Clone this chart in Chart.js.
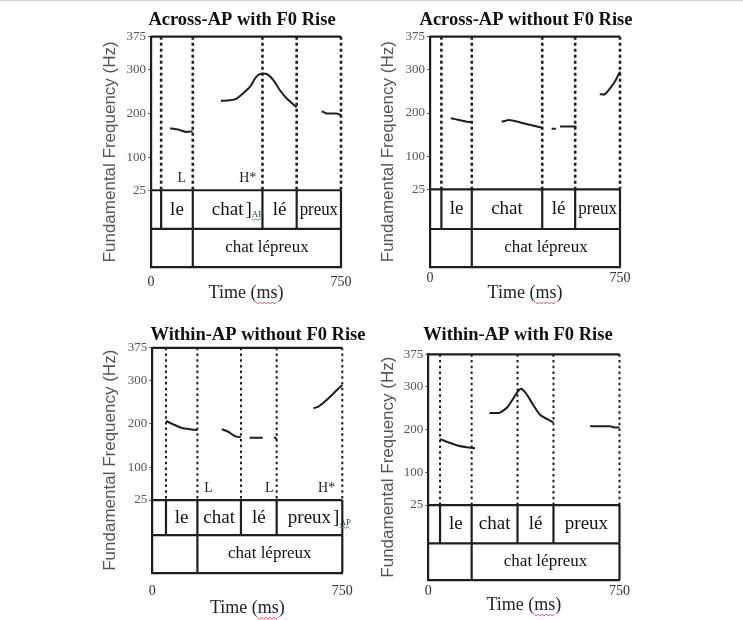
<!DOCTYPE html>
<html>
<head>
<meta charset="utf-8">
<title>F0 contours - le chat lépreux</title>
<script src="https://cdn.jsdelivr.net/npm/chart.js@4.4.1/dist/chart.umd.min.js"></script>
<style>
  body { margin: 0; background: #fff; width: 743px; height: 620px; position: relative; overflow: hidden; }
  .edge { position: absolute; left: 0; top: 0; width: 743px; height: 1px; background: #d0d0d0; }
  .panel { position: absolute; }
</style>
</head>
<body>
<div class="edge"></div>
<div class="panel" style="left:95px;top:0px"><canvas id="c1" width="275" height="310"></canvas></div>
<div class="panel" style="left:372px;top:0px"><canvas id="c2" width="290" height="310"></canvas></div>
<div class="panel" style="left:95px;top:315px"><canvas id="c3" width="285" height="305"></canvas></div>
<div class="panel" style="left:375px;top:315px"><canvas id="c4" width="290" height="305"></canvas></div>
<script>
// axis ticks
const yTicks = [25, 100, 200, 300, 375];
const xTicks = [0, 750];
const words = ['le', 'chat', 'lé', 'preux'];
const phrase = 'chat lépreux';

// Across-AP with F0 Rise (null = voiceless gap)
const acrossRiseTime = [75, 100, 115, 140, 165, null, 276, 312, 338, 364, 391, 411, 430, 457, 483, 509, 536, 575, null, 674, 694, 733, 750];
const acrossRiseF0 = [166, 164, 162, 158, 159, null, 229, 230, 234, 246, 261, 280, 290, 290, 276, 253, 234, 214, null, 205, 200, 200, 196];
const acrossRiseBounds = [40, 165, 440, 575, 750];
const acrossRiseTones = ['L', 'H*'];
const acrossRiseToneTime = [121, 382];

// Across-AP without F0 Rise
const acrossFlatTime = [82, 115, 148, 165, null, 283, 313, 353, 393, 443, null, 480, 497, null, 513, 578, null, 670, 690, 710, 730, 750];
const acrossFlatF0 = [188, 184, 180, 179, null, 180, 184, 179, 173, 166, null, 164, 164, null, 169, 169, null, 243, 243, 256, 272, 295];
const acrossFlatBounds = [45, 165, 443, 573, 750];

// Within-AP without F0 Rise
const withinFlatTime = [54, 83, 122, 178, null, 274, 300, 326, 350, null, 384, 436, null, 481, 491, null, 636, 656, 682, 708, 734, 750];
const withinFlatF0 = [207, 199, 190, 186, null, 188, 182, 172, 169, null, 168, 168, null, 170, 165, null, 236, 240, 252, 266, 281, 289];
const withinFlatBounds = [54, 178, 350, 491, 750];
const withinFlatTones = ['L', 'L', 'H*'];
const withinFlatToneTime = [222, 462, 688];

// Within-AP with F0 Rise
const withinRiseTime = [46, 72, 111, 151, 183, null, 240, 279, 310, 334, 350, 364, 386, 412, 439, 465, 491, null, 635, 713, 733, 750];
const withinRiseF0 = [178, 172, 164, 159, 157, null, 239, 239, 252, 273, 288, 295, 282, 257, 234, 225, 217, null, 208, 208, 205, 205];
const withinRiseBounds = [46, 170, 350, 491, 750];

const SERIF = "'Liberation Serif', 'Times New Roman', serif";
const SANS = "'Liberation Sans', Arial, sans-serif";
const INK = '#1e1e1e';

Chart.defaults.font.family = SERIF;

const panels = [
    { id: 'c1', title: 'Across-AP with F0 Rise', time: acrossRiseTime, f0: acrossRiseF0, bounds: acrossRiseBounds,
      tones: acrossRiseTones, toneTime: acrossRiseToneTime, apWord: 1,
      yMin: -150, tier1: -63, padTop: 36.7, padRight: 29, yAxisW: 56, xAxisH: 43,
      tx: 147, ty: 20, yTitlePad: 4.8, xTickPad: 6.6, xTitlePad: 6.2, dotW: 2.6, dash: [3, 3] },
    { id: 'c2', title: 'Across-AP without F0 Rise', time: acrossFlatTime, f0: acrossFlatF0, bounds: acrossFlatBounds,
      tones: [], toneTime: [], apWord: -1,
      yMin: -152.5, tier1: -66, padTop: 36.7, padRight: 42, yAxisW: 58, xAxisH: 43.3,
      tx: 154, ty: 20.7, yTitlePad: 5.8, xTickPad: 3.5, xTitlePad: 6.2, dotW: 2.6, dash: [3, 3] },
    { id: 'c3', title: 'Within-AP without F0 Rise', time: withinFlatTime, f0: withinFlatF0, bounds: withinFlatBounds,
      tones: withinFlatTones, toneTime: withinFlatToneTime, apWord: 3,
      yMin: -142, tier1: -55.5, padTop: 32.8, padRight: 37.7, yAxisW: 57.3, xAxisH: 47.3,
      tx: 163, ty: 20.7, yTitlePad: 4.8, xTickPad: 10.6, xTitlePad: 0.9, dotW: 2, dash: [2.5, 3.2] },
    { id: 'c4', title: 'Within-AP with F0 Rise', time: withinRiseTime, f0: withinRiseF0, bounds: withinRiseBounds,
      tones: [], toneTime: [], apWord: -1,
      yMin: -149, tier1: -64, padTop: 39.3, padRight: 45.5, yAxisW: 53.3, xAxisH: 40,
      tx: 143, ty: 20.7, yTitlePad: 3.1, xTickPad: 3.3, xTitlePad: 4.2, dotW: 2, dash: [2.5, 3.2] }
];

function seg(x0, y0, x1, y1, width, dash) {
    return {
        data: [{ x: x0, y: y0 }, { x: x1, y: y1 }],
        borderColor: INK, borderWidth: width, borderDash: dash || [],
        pointRadius: 0, clip: false
    };
}

function squiggle(ctx, x0, x1, y, color) {
    ctx.save();
    ctx.strokeStyle = color;
    ctx.lineWidth = 1;
    ctx.beginPath();
    for (let x = x0, k = 0; x <= x1; x += 2, k++) {
        const yy = y + (k % 2 ? 1 : -1);
        if (k === 0) ctx.moveTo(x, yy); else ctx.lineTo(x, yy);
    }
    ctx.stroke();
    ctx.restore();
}

// text squeezed sideways if it does not fit its interval
function fitText(ctx, txt, cx, cy, room) {
    const w = ctx.measureText(txt).width;
    if (w <= room) { ctx.fillText(txt, cx, cy); return w; }
    ctx.save();
    ctx.translate(cx, cy);
    ctx.scale(room / w, 1);
    ctx.fillText(txt, 0, 0);
    ctx.restore();
    return room;
}

// titles, tier labels, tone labels
const textPlugin = {
    id: 'tiers',
    afterDraw(chart, args, o) {
        const ctx = chart.ctx, xs = chart.scales.x, ys = chart.scales.y;
        const b = o.bounds;
        const y25 = ys.getPixelForValue(25);
        const yT1 = ys.getPixelForValue(o.tier1);
        const yT2 = ys.getPixelForValue(ys.min);
        ctx.save();
        ctx.textBaseline = 'middle';

        ctx.textAlign = 'center';
        ctx.fillStyle = '#111';
        ctx.font = 'bold 18.5px ' + SERIF;
        ctx.fillText(o.title, o.tx, o.ty);

        ctx.font = '19px ' + SERIF;
        for (let i = 0; i < words.length; i++) {
            const x0 = xs.getPixelForValue(b[i]), x1 = xs.getPixelForValue(b[i + 1]);
            const cx = (x0 + x1) / 2;
            const cy = (y25 + yT1) / 2;
            ctx.textAlign = 'center';
            const w = fitText(ctx, words[i], cx, cy, x1 - x0 - 6);
            if (i === o.apWord) {
                ctx.textAlign = 'left';
                const bx = cx + w / 2 + 2;
                ctx.fillText(']', bx, cy);
                const ax = bx + ctx.measureText(']').width;
                ctx.font = '9px ' + SERIF;
                ctx.fillStyle = '#2f4f2f';
                ctx.fillText('AP', ax, cy + 5);
                squiggle(ctx, ax, ax + ctx.measureText('AP').width, cy + 10, '#3aa050');
                ctx.fillStyle = '#111';
                ctx.font = '19px ' + SERIF;
            }
        }
        ctx.textAlign = 'center';
        ctx.font = '17px ' + SERIF;
        const px = (xs.getPixelForValue(b[1]) + xs.getPixelForValue(750)) / 2;
        ctx.fillText(phrase, px, (yT1 + yT2) / 2);

        ctx.font = '14px ' + SERIF;
        ctx.fillStyle = '#222';
        for (let i = 0; i < o.tones.length; i++) {
            ctx.fillText(o.tones[i], xs.getPixelForValue(o.toneTime[i]), y25 - 12);
        }

        // spell-check underline under "ms"
        ctx.font = '18px ' + SERIF;
        const full = ctx.measureText('Time (ms)').width;
        const pre = ctx.measureText('Time (').width;
        const ms = ctx.measureText('ms').width;
        const tcx = (chart.chartArea.left + chart.chartArea.right) / 2;
        const tcy = xs.bottom - 10.8 - o.xTitlePad;
        squiggle(ctx, tcx - full / 2 + pre, tcx - full / 2 + pre + ms, tcy + 10, '#e05050');
        ctx.restore();
    }
};

panels.forEach(function (p) {
    const b = p.bounds;
    const ds = [];
    // frame: top line, 25 line, tier line
    ds.push(seg(0, 375, 750, 375, 2.2));
    ds.push(seg(0, 25, 750, 25, 2.2));
    ds.push(seg(0, p.tier1, 750, p.tier1, 2.2));
    // dotted segment boundaries above the tiers
    b.forEach(function (t) { ds.push(seg(t, 375, t, 25, p.dotW, p.dash)); });
    // solid tier boundaries
    b.forEach(function (t) { ds.push(seg(t, 25, t, p.tier1, 2.2)); });
    ds.push(seg(b[1], p.tier1, b[1], p.yMin, 2.2));
    ds.push(seg(750, p.tier1, 750, p.yMin, 2.2));
    // F0 track
    ds.push({
        data: p.time.map(function (t, i) { return { x: t, y: p.f0[i] }; }),
        borderColor: INK, borderWidth: 2, pointRadius: 0, spanGaps: false, clip: false, tension: 0.2
    });

    new Chart(document.getElementById(p.id), {
        type: 'line',
        data: { datasets: ds },
        options: {
            responsive: false,
            animation: false,
            layout: { padding: { top: p.padTop, right: p.padRight, left: 0, bottom: 0 } },
            plugins: {
                legend: { display: false },
                tooltip: { enabled: false },
                tiers: { bounds: b, tier1: p.tier1, apWord: p.apWord, tones: p.tones, toneTime: p.toneTime,
                         title: p.title, tx: p.tx, ty: p.ty, xTitlePad: p.xTitlePad }
            },
            scales: {
                x: {
                    type: 'linear', min: 0, max: 750,
                    afterBuildTicks: function (s) { s.ticks = xTicks.map(function (v) { return { value: v }; }); },
                    afterFit: function (s) { s.height = p.xAxisH; },
                    grid: { display: false, drawTicks: false },
                    border: { display: true, width: 2.2, color: INK },
                    ticks: { padding: p.xTickPad, font: { size: 14 }, color: '#333', maxRotation: 0, autoSkip: false },
                    title: { display: true, text: 'Time (ms)', font: { size: 18 }, color: '#222', padding: { top: 0, bottom: p.xTitlePad } }
                },
                y: {
                    type: 'linear', min: p.yMin, max: 375,
                    afterBuildTicks: function (s) { s.ticks = yTicks.map(function (v) { return { value: v }; }); },
                    afterFit: function (s) { s.width = p.yAxisW; },
                    grid: { drawOnChartArea: false, drawTicks: true, tickLength: 3, color: '#555' },
                    border: { display: true, width: 2.2, color: INK },
                    ticks: { padding: 2, font: { size: 13 }, color: '#555', autoSkip: false },
                    title: { display: true, text: 'Fundamental Frequency (Hz)', font: { family: SANS, size: 17 }, color: '#555',
                             padding: { top: p.yTitlePad, bottom: 0 } }
                }
            }
        },
        plugins: [textPlugin]
    });
});
</script>
</body>
</html>
